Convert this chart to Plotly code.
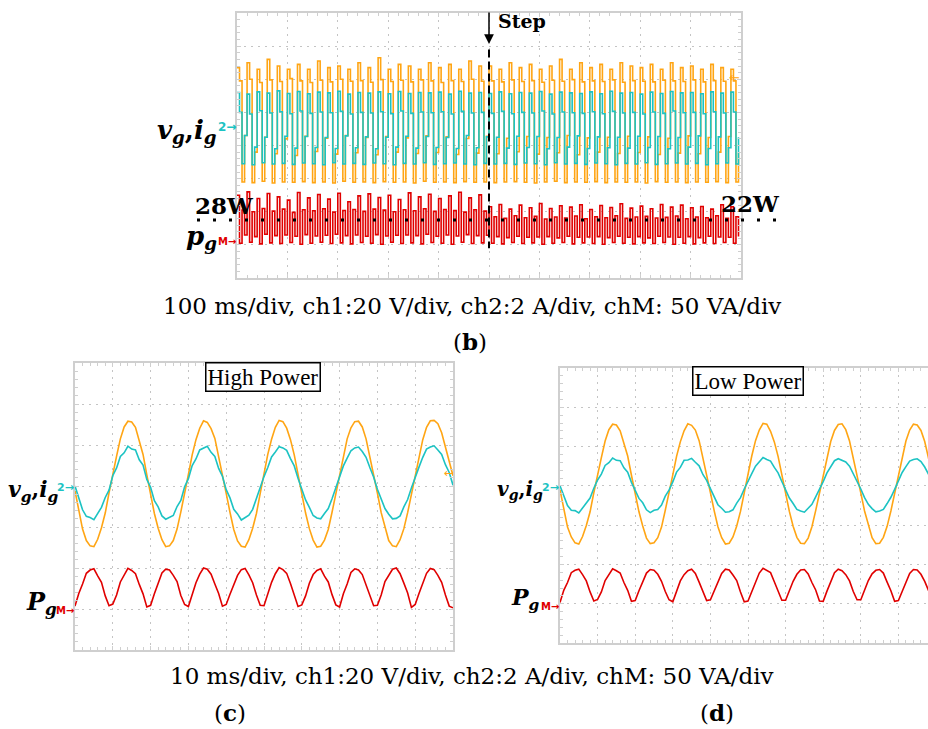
import numpy as np
import plotly.graph_objects as go

W, H = 928, 729

# ------------------------------------------------------------------ data
# Panel (b): 100 ms/div, aliased scope trace, 4 display samples per mains cycle (values in div)
b_vg = [
    2.35, 1.95, -1.10, 0.30, 2.50, 2.00, -1.12, -0.20, 2.30, 1.90, -1.08, 0.25, 2.60, 1.98, -1.13, -0.25, 2.40, 1.93, -1.10, 0.20,
    2.30, 2.02, -1.11, -0.30, 2.45, 1.95, -1.09, 0.28, 2.30, 1.90, -1.12, -0.18, 2.55, 1.97, -1.10, 0.22, 2.35, 1.92, -1.13, -0.26,
    2.40, 2.00, -1.08, 0.30, 2.30, 1.94, -1.11, -0.22, 2.50, 1.96, -1.10, 0.24, 2.35, 1.91, -1.12, -0.28, 2.65, 1.99, -1.09, 0.27,
    2.30, 1.93, -1.11, -0.20, 2.45, 1.97, -1.10, 0.23, 2.40, 1.92, -1.13, -0.24, 2.30, 1.98, -1.08, 0.29, 2.50, 1.95, -1.11, -0.21,
    2.35, 1.90, -1.10, 0.26, 2.45, 1.96, -1.12, -0.27, 2.30, 1.93, -1.09, 0.21, 2.55, 2.00, -1.11, -0.23, 2.40, 1.94, -1.10, 0.28,
    2.40, 1.95, -1.12, -0.25, 2.30, 1.92, -1.10, 0.22, 2.50, 1.98, -1.09, -0.19, 2.35, 1.93, -1.11, 0.27, 2.45, 1.96, -1.13, -0.26,
    2.30, 1.91, -1.10, 0.24, 2.40, 1.97, -1.08, -0.22, 2.60, 1.94, -1.12, 0.30, 2.30, 1.99, -1.10, -0.28, 2.50, 1.92, -1.11, 0.23,
    2.35, 1.95, -1.09, -0.20, 2.45, 1.93, -1.12, 0.25, 2.30, 1.98, -1.10, -0.24, 2.50, 1.91, -1.11, 0.28, 2.40, 1.96, -1.10, -0.21,
    2.35, 1.94, -1.13, 0.26, 2.45, 1.92, -1.09, -0.27, 2.30, 1.97, -1.11, 0.22, 2.50, 1.95, -1.10, -0.23, 2.35, 1.93, -1.12, 0.29,
    2.40, 1.98, -1.10, -0.25, 2.30, 1.92, -1.11, 0.24, 2.45, 1.96, -1.09, -0.20, 2.35, 1.94, -1.12, 0.27, 2.30, 1.95, -1.10, -0.22,
]
b_ig = [
    1.60, 1.00, -0.55, 0.30, 1.55, 0.95, -0.58, -0.05, 1.62, 1.05, -0.52, 0.25, 1.58, 0.98, -0.56, -0.10, 1.65, 1.02, -0.54, 0.28,
    1.57, 0.96, -0.57, -0.08, 1.63, 1.04, -0.53, 0.27, 1.56, 0.97, -0.55, -0.06, 1.61, 1.01, -0.58, 0.24, 1.59, 0.99, -0.52, -0.09,
    1.64, 1.03, -0.56, 0.29, 1.55, 0.95, -0.54, -0.07, 1.60, 1.00, -0.57, 0.26, 1.58, 0.98, -0.53, -0.10, 1.62, 1.02, -0.55, 0.25,
    1.56, 0.96, -0.58, -0.05, 1.63, 1.04, -0.54, 0.28, 1.57, 0.97, -0.56, -0.08, 1.60, 1.01, -0.52, 0.27, 1.59, 0.99, -0.57, -0.06,
    1.61, 1.02, -0.55, 0.24, 1.55, 0.95, -0.53, -0.09, 1.64, 1.03, -0.56, 0.30, 1.58, 0.98, -0.58, -0.07, 1.60, 1.00, -0.54, 0.26,
    1.57, 0.97, -0.56, 0.25, 1.62, 1.03, -0.54, -0.08, 1.56, 0.96, -0.57, 0.28, 1.60, 1.00, -0.53, -0.06, 1.58, 0.98, -0.55, 0.27,
    1.63, 1.04, -0.58, -0.10, 1.55, 0.95, -0.52, 0.24, 1.61, 1.01, -0.56, -0.05, 1.59, 0.99, -0.54, 0.29, 1.57, 0.97, -0.57, -0.09,
    1.62, 1.02, -0.53, 0.26, 1.56, 0.96, -0.55, -0.07, 1.64, 1.03, -0.58, 0.25, 1.58, 0.98, -0.54, -0.08, 1.60, 1.00, -0.56, 0.28,
    1.55, 0.95, -0.52, -0.06, 1.61, 1.01, -0.57, 0.27, 1.57, 0.97, -0.55, -0.10, 1.63, 1.04, -0.53, 0.24, 1.59, 0.99, -0.56, -0.05,
    1.60, 1.00, -0.54, 0.29, 1.56, 0.96, -0.58, -0.09, 1.62, 1.02, -0.55, 0.26, 1.58, 0.98, -0.53, -0.07, 1.61, 1.01, -0.56, 0.25,
]
b_pg = [
    -1.50, -2.95, -1.95, -2.70, -1.40, -2.92, -2.00, -2.75, -1.60, -2.97, -1.90, -2.68, -1.45, -2.94, -1.98, -2.72, -1.55, -2.96, -1.92, -2.70,
    -1.65, -2.93, -2.02, -2.74, -1.42, -2.98, -1.94, -2.69, -1.58, -2.95, -1.97, -2.73, -1.48, -2.92, -1.91, -2.71, -1.62, -2.96, -2.01, -2.68,
    -1.44, -2.94, -1.96, -2.72, -1.70, -2.97, -1.93, -2.70, -1.52, -2.93, -1.99, -2.74, -1.46, -2.95, -1.92, -2.69, -1.57, -2.98, -1.95, -2.73,
    -1.50, -2.92, -2.00, -2.71, -1.63, -2.96, -1.94, -2.70, -1.43, -2.94, -1.97, -2.72, -1.55, -2.97, -1.91, -2.68, -1.47, -2.93, -1.99, -2.74,
    -1.60, -2.95, -1.93, -2.70, -1.52, -2.98, -1.96, -2.73, -1.41, -2.92, -2.01, -2.69, -1.58, -2.96, -1.94, -2.72, -1.49, -2.94, -1.98, -2.71,
    -1.85, -2.95, -2.15, -2.75, -1.78, -2.97, -2.20, -2.78, -1.92, -2.93, -2.12, -2.74, -1.80, -2.96, -2.18, -2.77, -1.88, -2.94, -2.14, -2.76,
    -1.75, -2.98, -2.22, -2.75, -1.90, -2.95, -2.16, -2.79, -1.82, -2.93, -2.19, -2.74, -1.86, -2.97, -2.13, -2.77, -1.79, -2.94, -2.21, -2.76,
    -1.93, -2.96, -2.15, -2.75, -1.81, -2.98, -2.18, -2.78, -1.87, -2.93, -2.12, -2.74, -1.76, -2.95, -2.20, -2.77, -1.89, -2.97, -2.16, -2.75,
    -1.83, -2.94, -2.14, -2.79, -1.91, -2.96, -2.19, -2.74, -1.78, -2.93, -2.17, -2.76, -1.86, -2.98, -2.13, -2.77, -1.80, -2.95, -2.21, -2.75,
    -1.88, -2.97, -2.16, -2.78, -1.84, -2.94, -2.18, -2.74, -1.92, -2.96, -2.12, -2.76, -1.79, -2.93, -2.20, -2.77, -1.85, -2.95, -2.15, -2.75,
]
b_step_div = 5.0          # load step instant (div)
b_power_ref = -2.25       # 28 W / 22 W reference level (div)

# Panels (c) High Power and (d) Low Power: 10 ms/div, one reading every 0.1 div (values in div)
c_vg = [
    -0.12, -0.63, -1.05, -1.33, -1.46, -1.48, -1.30, -1.02, -0.66, -0.17, 0.31, 0.73, 1.15, 1.44, 1.58, 1.56, 1.43, 1.12, 0.77, 0.27,
    -0.21, -0.67, -1.03, -1.31, -1.48, -1.46, -1.33, -1.05, -0.63, -0.20, 0.28, 0.76, 1.13, 1.41, 1.59, 1.55, 1.40, 1.16, 0.74, 0.30,
    -0.18, -0.64, -1.06, -1.34, -1.47, -1.49, -1.31, -1.03, -0.67, -0.18, 0.30, 0.77, 1.14, 1.43, 1.60, 1.57, 1.41, 1.13, 0.76, 0.28,
    -0.20, -0.66, -1.04, -1.32, -1.49, -1.47, -1.32, -1.06, -0.64, -0.19, 0.29, 0.74, 1.15, 1.42, 1.57, 1.58, 1.44, 1.15, 0.73, 0.31,
    -0.17, -0.65, -1.02, -1.33, -1.46, -1.48, -1.31, -1.04, -0.65, -0.21, 0.27, 0.75, 1.13, 1.43, 1.59, 1.60, 1.52, 1.30, 0.95, 0.55,
    0.25,
]
c_ig = [
    0.00, -0.30, -0.58, -0.74, -0.77, -0.82, -0.68, -0.52, -0.28, -0.10, 0.25, 0.44, 0.72, 0.81, 0.97, 0.90, 0.88, 0.64, 0.51, 0.16,
    -0.03, -0.36, -0.51, -0.73, -0.81, -0.76, -0.72, -0.50, -0.35, -0.02, 0.18, 0.50, 0.66, 0.88, 0.92, 0.97, 0.82, 0.72, 0.43, 0.24,
    -0.09, -0.29, -0.57, -0.68, -0.83, -0.78, -0.71, -0.57, -0.30, -0.07, 0.23, 0.45, 0.71, 0.83, 0.96, 0.93, 0.87, 0.67, 0.49, 0.19,
    -0.05, -0.34, -0.52, -0.72, -0.78, -0.80, -0.67, -0.55, -0.31, -0.04, 0.20, 0.49, 0.68, 0.86, 0.93, 0.95, 0.84, 0.70, 0.45, 0.22,
    -0.08, -0.31, -0.55, -0.69, -0.80, -0.79, -0.73, -0.51, -0.33, -0.05, 0.22, 0.46, 0.70, 0.90, 0.95, 0.98, 0.88, 0.77, 0.52, 0.33,
    0.02,
]
c_pg = [
    -2.93, -2.62, -2.39, -2.13, -2.05, -2.02, -2.19, -2.35, -2.68, -2.92,
    -2.88, -2.66, -2.34, -2.17, -2.01, -2.06, -2.14, -2.40, -2.63, -2.95,
    -2.91, -2.63, -2.38, -2.12, -2.03, -2.05, -2.18, -2.33, -2.67, -2.89,
    -2.94, -2.67, -2.36, -2.15, -2.00, -2.03, -2.15, -2.39, -2.62, -2.93,
    -2.89, -2.64, -2.40, -2.18, -2.04, -2.01, -2.17, -2.36, -2.66, -2.91,
    -2.92, -2.61, -2.35, -2.14, -1.99, -2.04, -2.13, -2.38, -2.64, -2.94,
    -2.90, -2.68, -2.37, -2.16, -2.06, -2.02, -2.20, -2.34, -2.65, -2.90,
    -2.95, -2.63, -2.39, -2.11, -2.02, -2.05, -2.16, -2.41, -2.67, -2.92,
    -2.91, -2.66, -2.33, -2.17, -2.03, -2.00, -2.14, -2.37, -2.61, -2.96,
    -2.89, -2.62, -2.38, -2.13, -2.01, -2.04, -2.18, -2.35, -2.66, -2.93,
    -2.97,
]
d_vg = [
    -0.10, -0.62, -1.05, -1.30, -1.45, -1.48, -1.29, -1.01, -0.66, -0.17, 0.31, 0.72, 1.14, 1.43, 1.57, 1.55, 1.40, 1.11, 0.76, 0.27,
    -0.20, -0.66, -1.02, -1.33, -1.47, -1.45, -1.32, -1.05, -0.62, -0.21, 0.28, 0.75, 1.12, 1.40, 1.58, 1.54, 1.42, 1.15, 0.73, 0.30,
    -0.17, -0.63, -1.04, -1.32, -1.48, -1.46, -1.30, -1.02, -0.65, -0.18, 0.30, 0.76, 1.15, 1.42, 1.59, 1.57, 1.39, 1.12, 0.75, 0.28,
    -0.21, -0.65, -1.03, -1.31, -1.46, -1.47, -1.33, -1.04, -0.63, -0.19, 0.27, 0.73, 1.13, 1.41, 1.56, 1.58, 1.43, 1.14, 0.72, 0.31,
    -0.18, -0.64, -1.01, -1.32, -1.47, -1.46, -1.31, -1.03, -0.64, -0.20, 0.29, 0.74, 1.14, 1.42, 1.57, 1.55, 1.41, 1.13, 0.74, 0.29,
    -0.19,
]
d_ig = [
    0.00, -0.27, -0.50, -0.62, -0.63, -0.69, -0.56, -0.44, -0.31, -0.06, 0.15, 0.30, 0.52, 0.59, 0.71, 0.65, 0.64, 0.46, 0.35, 0.09,
    -0.12, -0.32, -0.43, -0.61, -0.68, -0.62, -0.60, -0.49, -0.26, -0.11, 0.10, 0.35, 0.47, 0.65, 0.66, 0.70, 0.60, 0.51, 0.29, 0.14,
    -0.07, -0.28, -0.48, -0.57, -0.67, -0.66, -0.61, -0.44, -0.30, -0.08, 0.13, 0.31, 0.50, 0.61, 0.72, 0.67, 0.63, 0.47, 0.33, 0.11,
    -0.10, -0.31, -0.45, -0.60, -0.64, -0.67, -0.57, -0.47, -0.28, -0.10, 0.11, 0.33, 0.48, 0.64, 0.69, 0.66, 0.61, 0.50, 0.31, 0.13,
    -0.08, -0.30, -0.47, -0.58, -0.66, -0.64, -0.60, -0.45, -0.29, -0.09, 0.12, 0.34, 0.49, 0.63, 0.67, 0.69, 0.62, 0.48, 0.30, 0.10,
    -0.09,
]
d_pg = [
    -2.97, -2.66, -2.46, -2.21, -2.15, -2.12, -2.26, -2.42, -2.70, -2.93,
    -2.89, -2.70, -2.41, -2.25, -2.11, -2.16, -2.22, -2.46, -2.66, -2.94,
    -2.92, -2.67, -2.45, -2.22, -2.13, -2.15, -2.25, -2.43, -2.69, -2.90,
    -2.95, -2.69, -2.42, -2.26, -2.16, -2.12, -2.23, -2.45, -2.67, -2.92,
    -2.90, -2.66, -2.44, -2.23, -2.12, -2.14, -2.27, -2.41, -2.70, -2.95,
    -2.93, -2.70, -2.47, -2.22, -2.10, -2.15, -2.21, -2.44, -2.68, -2.91,
    -2.91, -2.67, -2.43, -2.25, -2.14, -2.13, -2.24, -2.46, -2.65, -2.93,
    -2.94, -2.68, -2.45, -2.21, -2.12, -2.16, -2.26, -2.42, -2.69, -2.90,
    -2.90, -2.66, -2.41, -2.24, -2.15, -2.13, -2.22, -2.45, -2.67, -2.94,
    -2.92, -2.69, -2.44, -2.23, -2.13, -2.14, -2.25, -2.43, -2.66, -2.92,
    -2.95,
]

caption_b = "100 ms/div, ch1:20 V/div, ch2:2 A/div, chM: 50 VA/div"
caption_cd = "10 ms/div, ch1:20 V/div, ch2:2 A/div, chM: 50 VA/div"

# ------------------------------------------------------------------ style
ORANGE = "#FFA514"
TEAL = "#1CC3C3"
RED = "#E00000"
FRAME = "#CFCFCF"
GRID = "#C4C4C4"
SERIF = "Liberation Serif"
WIDE = "DejaVu Serif"

tb = np.arange(len(b_vg)) * 0.05
tc = np.arange(len(c_vg)) * 0.1

fig = go.Figure()
# panel b
fig.add_trace(go.Scatter(x=tb, y=b_vg, mode="lines", line=dict(color=ORANGE, width=1.6, shape="hv"), xaxis="x", yaxis="y"))
fig.add_trace(go.Scatter(x=tb, y=b_ig, mode="lines", line=dict(color=TEAL, width=1.6, shape="hv"), xaxis="x", yaxis="y"))
fig.add_trace(go.Scatter(x=tb, y=b_pg, mode="lines", line=dict(color=RED, width=1.6, shape="hv"), xaxis="x", yaxis="y"))
# panel c
fig.add_trace(go.Scatter(x=tc, y=c_vg, mode="lines", line=dict(color=ORANGE, width=1.6), xaxis="x2", yaxis="y2"))
fig.add_trace(go.Scatter(x=tc, y=c_ig, mode="lines", line=dict(color=TEAL, width=1.6), xaxis="x2", yaxis="y2"))
fig.add_trace(go.Scatter(x=tc, y=c_pg, mode="lines", line=dict(color=RED, width=1.6), xaxis="x2", yaxis="y2"))
# panel d
fig.add_trace(go.Scatter(x=tc, y=d_vg, mode="lines", line=dict(color=ORANGE, width=1.6), xaxis="x3", yaxis="y3"))
fig.add_trace(go.Scatter(x=tc, y=d_ig, mode="lines", line=dict(color=TEAL, width=1.6), xaxis="x3", yaxis="y3"))
fig.add_trace(go.Scatter(x=tc, y=d_pg, mode="lines", line=dict(color=RED, width=1.6), xaxis="x3", yaxis="y3"))


def axis(domain, rng, mirror="allticks", anchor=None):
    d = dict(domain=domain, range=rng, showticklabels=False, showgrid=True, gridcolor=GRID,
             griddash="2px,5px", gridwidth=1, tick0=0, dtick=1, zeroline=False,
             showline=True, linecolor=FRAME, linewidth=2, mirror=mirror,
             ticks="inside", ticklen=4, tickcolor=FRAME, tickwidth=1,
             minor=dict(ticks="inside", ticklen=3, dtick=0.2, tickcolor=FRAME, showgrid=False),
             fixedrange=True)
    if anchor:
        d["anchor"] = anchor
    return d


def px_x(p):
    return p / W


def px_y(p):
    return 1 - p / H


layout = dict(
    width=W, height=H, margin=dict(l=0, r=0, t=0, b=0),
    paper_bgcolor="white", plot_bgcolor="white", showlegend=False,
    xaxis=axis([px_x(237), px_x(741)], [0, 10], anchor="y"),
    yaxis=axis([px_y(278), px_y(13)], [-4, 4], anchor="x"),
    xaxis2=axis([px_x(75), px_x(453)], [0, 10], anchor="y2"),
    yaxis2=axis([px_y(650), px_y(363)], [-4, 3], anchor="x2"),
    xaxis3=axis([px_x(560), 1.0], [0, 368 / 37.6], anchor="y3"),
    yaxis3=axis([px_y(643), px_y(368)], [-4, 3], mirror=False, anchor="x3"),
)
fig.update_layout(**layout)


def ann(text, x, y, size, color="black", family=SERIF, xanchor="center", yanchor="middle", **kw):
    return dict(text=text, x=px_x(x), y=px_y(y), xref="paper", yref="paper", showarrow=False,
                font=dict(size=size, color=color, family=family), xanchor=xanchor, yanchor=yanchor, **kw)


VI = "<b><i>v<sub>g</sub></i>,<i>i<sub>g</sub></i></b>"
PG_LOW = "<b><i>p<sub>g</sub></i></b>"
PG_CAP = "<b><i>P<sub>g</sub></i></b>"
annots = [
    # panel b
    ann(VI, 219, 131, 26, family=WIDE, xanchor="right"),
    ann("<b>2→</b>", 238, 127, 12, color=TEAL, family="DejaVu Sans", xanchor="right"),
    ann(PG_LOW, 219, 238, 26, family=WIDE, xanchor="right"),
    ann("<b>M→</b>", 238, 242, 10, color=RED, family="DejaVu Sans", xanchor="right"),
    ann("<b>28W</b>", 224, 205, 23, family=WIDE),
    ann("<b>22W</b>", 750, 203, 23, family=WIDE),
    ann("<b>Step</b>", 496, 21, 19, family=WIDE, xanchor="left"),
    ann("←", 742, 78, 13, color=ORANGE, family="DejaVu Sans", xanchor="right"),
    dict(text="", x=px_x(489), y=px_y(44), xref="paper", yref="paper", showarrow=True,
         ax=0, ay=-33, arrowhead=2, arrowsize=1.3, arrowwidth=1.5, arrowcolor="black"),
    # panel c
    ann("High Power", 263, 377, 23, bordercolor="black", borderwidth=1.5, borderpad=1, bgcolor="white"),
    ann(VI, 61, 491, 22, family=WIDE, xanchor="right"),
    ann("<b>2→</b>", 76, 487, 11, color=TEAL, family="DejaVu Sans", xanchor="right"),
    ann(PG_CAP, 59, 603, 24, family=WIDE, xanchor="right"),
    ann("<b>M→</b>", 76, 610, 10, color=RED, family="DejaVu Sans", xanchor="right"),
    ann("←", 456, 473, 12, color=ORANGE, family="DejaVu Sans", xanchor="right"),
    # panel d
    ann("Low Power", 748, 381, 23, bordercolor="black", borderwidth=1.5, borderpad=1, bgcolor="white"),
    ann(VI, 545, 490, 20, family=WIDE, xanchor="right"),
    ann("<b>2→</b>", 561, 487, 11, color=TEAL, family="DejaVu Sans", xanchor="right"),
    ann(PG_CAP, 542, 599, 22, family=WIDE, xanchor="right"),
    ann("<b>M→</b>", 561, 606, 10, color=RED, family="DejaVu Sans", xanchor="right"),
    # captions
    ann(caption_b, 472, 306, 23, family=WIDE),
    ann("(<b>b</b>)", 470, 341, 23, family=WIDE),
    ann(caption_cd, 472, 676, 23, family=WIDE),
    ann("(<b>c</b>)", 230, 712, 23, family=WIDE),
    ann("(<b>d</b>)", 717, 712, 23, family=WIDE),
]
fig.update_layout(annotations=annots)

shapes = [
    # step marker (dashed) on panel b time axis
    dict(type="line", xref="x", yref="y", x0=b_step_div, x1=b_step_div, y0=2.9, y1=-3.1,
         line=dict(color="black", width=2, dash="8px,4px")),
    # 28 W / 22 W reference dotted line
    dict(type="line", xref="paper", yref="y", x0=px_x(197), x1=px_x(782), y0=b_power_ref, y1=b_power_ref,
         line=dict(color="black", width=3, dash="3px,13px")),
]
fig.update_layout(shapes=shapes)

fig.write_html("out.html")
